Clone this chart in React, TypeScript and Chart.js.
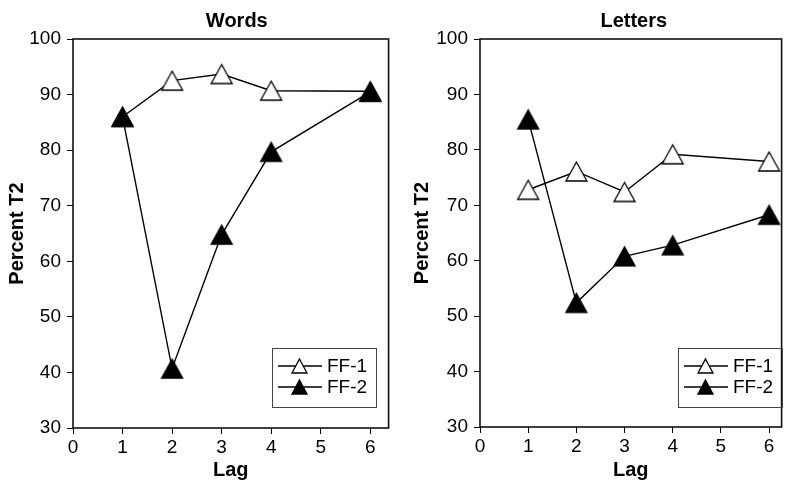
import React, { useEffect, useRef } from "react";
import { Chart, registerables } from "chart.js";

Chart.register(...registerables);

// ---- data ----
const lags = [1, 2, 3, 4, 6];
const xTicks = [0, 1, 2, 3, 4, 5, 6];
const yTicks = [30, 40, 50, 60, 70, 80, 90, 100];
const wordsFF1 = [86.0, 92.5, 93.7, 90.7, 90.6];
const wordsFF2 = [86.0, 40.7, 64.8, 79.7, 90.5];
const lettersFF1 = [72.8, 76.1, 72.4, 79.2, 77.9];
const lettersFF2 = [85.5, 52.4, 60.8, 62.8, 68.3];
const seriesLabels = ["FF-1", "FF-2"];
const panelTitles = ["Words", "Letters"];
const xTitle = "Lag";
const yTitle = "Percent T2";

const FONT = '"Liberation Sans", Arial, Helvetica, sans-serif';

function triangleImage(w: number, h: number, fill: string, lw: number) {
  const pad = 2;
  const c = document.createElement("canvas");
  c.width = w + pad * 2;
  c.height = h + pad * 2;
  const ctx = c.getContext("2d")!;
  ctx.beginPath();
  ctx.moveTo(pad + w / 2, pad);
  ctx.lineTo(pad + w, pad + h);
  ctx.lineTo(pad, pad + h);
  ctx.closePath();
  ctx.fillStyle = fill;
  ctx.fill();
  ctx.lineJoin = "miter";
  ctx.lineWidth = lw;
  ctx.strokeStyle = "#000";
  ctx.stroke();
  return c;
}

const framePlugin = {
  id: "frame",
  beforeDatasetsDraw(chart: any) {
    const { ctx, chartArea: a } = chart;
    ctx.save();
    ctx.strokeStyle = "#111";
    ctx.lineWidth = 1.6;
    ctx.strokeRect(a.left, a.top, a.right - a.left, a.bottom - a.top);
    ctx.restore();
  },
};

const panelTitlePlugin = {
  id: "panelTitle",
  afterDraw(chart: any, _args: any, opts: any) {
    const { ctx, chartArea: a } = chart;
    ctx.save();
    ctx.font = `bold 20px ${FONT}`;
    ctx.fillStyle = "#000";
    ctx.textAlign = "center";
    ctx.textBaseline = "middle";
    ctx.fillText(opts.text, (a.left + a.right) / 2 + opts.dx, opts.y);
    ctx.restore();
  },
};

const boxLegendPlugin = {
  id: "boxLegend",
  afterDraw(chart: any, _args: any, opts: any) {
    const { ctx, chartArea: a } = chart;
    const x0 = a.left + opts.offsetX;
    const y0 = opts.top;
    const w = 104;
    const h = 59;
    ctx.save();
    ctx.strokeStyle = "#444";
    ctx.lineWidth = 1;
    ctx.strokeRect(x0 + 0.5, y0 + 0.5, w, h);
    chart.data.datasets.forEach((ds: any, i: number) => {
      const y = y0 + 18 + i * 21;
      ctx.strokeStyle = "#000";
      ctx.lineWidth = 1.3;
      ctx.beginPath();
      ctx.moveTo(x0 + 6, y);
      ctx.lineTo(x0 + 50, y);
      ctx.stroke();
      const img = ds.legendImage;
      ctx.drawImage(img, Math.round(x0 + 27 - img.width / 2), Math.round(y - img.height / 2));
      ctx.font = `19px ${FONT}`;
      ctx.fillStyle = "#000";
      ctx.textAlign = "left";
      ctx.textBaseline = "middle";
      ctx.fillText(ds.label, x0 + 55, y + 1);
    });
    ctx.restore();
  },
};

type PanelProps = {
  title: string;
  ff1: number[];
  ff2: number[];
  width: number;
  yAxisWidth: number;
  yTitlePad: number;
  xMax: number;
  padRight: number;
  xHeight: number;
  titleDx: number;
  legendOffsetX: number;
};

function Panel(p: PanelProps) {
  const ref = useRef<HTMLCanvasElement | null>(null);
  useEffect(() => {
    if (!ref.current) return;
    const openImg = triangleImage(21, 19, "#fff", 1.3);
    const filledImg = triangleImage(21, 19, "#000", 1.3);
    const openLeg = triangleImage(15, 14, "#fff", 1.3);
    const filledLeg = triangleImage(15, 14, "#000", 1.3);
    const chart = new Chart(ref.current, {
      type: "line",
      data: {
        datasets: [
          {
            label: seriesLabels[0],
            data: lags.map((x, i) => ({ x, y: p.ff1[i] })),
            borderColor: "#000",
            borderWidth: 1.4,
            pointStyle: openImg as any,
            pointRadius: 10,
            order: 1,
            legendImage: openLeg,
          } as any,
          {
            label: seriesLabels[1],
            data: lags.map((x, i) => ({ x, y: p.ff2[i] })),
            borderColor: "#000",
            borderWidth: 1.4,
            pointStyle: filledImg as any,
            pointRadius: 10,
            order: 0,
            legendImage: filledLeg,
          } as any,
        ],
      },
      options: {
        responsive: false,
        animation: false,
        devicePixelRatio: 1,
        layout: { padding: { top: 39, right: p.padRight, left: 0, bottom: 0 } },
        scales: {
          x: {
            type: "linear",
            min: 0,
            max: p.xMax,
            afterBuildTicks: (s: any) => {
              s.ticks = xTicks.map((v) => ({ value: v }));
            },
            afterFit: (s: any) => {
              s.height = p.xHeight;
            },
            grid: { drawOnChartArea: false, drawTicks: true, tickLength: 6, color: "#000", lineWidth: 1 },
            border: { display: false },
            ticks: { color: "#000", font: { size: 19, family: FONT }, padding: 2, maxRotation: 0 },
            title: {
              display: true,
              text: xTitle,
              color: "#000",
              font: { size: 20, weight: "bold", family: FONT },
              padding: { top: 0, bottom: 1 },
            },
          },
          y: {
            type: "linear",
            min: 30,
            max: 100,
            afterBuildTicks: (s: any) => {
              s.ticks = yTicks.map((v) => ({ value: v }));
            },
            afterFit: (s: any) => {
              s.width = p.yAxisWidth;
            },
            grid: { drawOnChartArea: false, drawTicks: true, tickLength: 6, color: "#000", lineWidth: 1 },
            border: { display: false },
            ticks: { color: "#000", font: { size: 19, family: FONT }, padding: 6 },
            title: {
              display: true,
              text: yTitle,
              color: "#000",
              font: { size: 20, weight: "bold", family: FONT },
              padding: { top: p.yTitlePad, bottom: 0 },
            },
          },
        },
        plugins: {
          legend: { display: false },
          tooltip: { enabled: false },
          title: { display: false },
          panelTitle: { text: p.title, y: 21, dx: p.titleDx },
          boxLegend: { offsetX: p.legendOffsetX, top: 348 },
        } as any,
      },
      plugins: [framePlugin, panelTitlePlugin, boxLegendPlugin],
    });
    return () => chart.destroy();
  }, []);
  return <canvas ref={ref} width={p.width} height={483} style={{ display: "block", width: p.width, height: 483 }} />;
}

export default function App() {
  return (
    <div style={{ position: "absolute", left: 0, top: 0, width: 793, height: 483, display: "flex", background: "#fff" }}>
      <Panel
        title={panelTitles[0]}
        ff1={wordsFF1}
        ff2={wordsFF2}
        width={400}
        yAxisWidth={73}
        yTitlePad={5}
        xMax={6.37}
        padRight={8}
        xHeight={55}
        titleDx={6}
        legendOffsetX={199}
      />
      <Panel
        title={panelTitles[1]}
        ff1={lettersFF1}
        ff2={lettersFF2}
        width={393}
        yAxisWidth={80}
        yTitlePad={10}
        xMax={6.26}
        padRight={1}
        xHeight={56}
        titleDx={3}
        legendOffsetX={198}
      />
    </div>
  );
}
